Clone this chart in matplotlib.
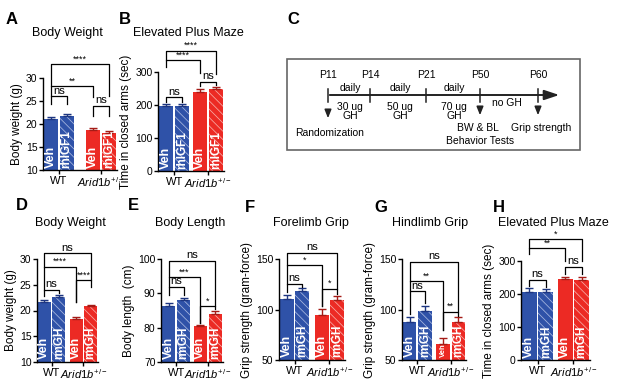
import matplotlib
matplotlib.use("Agg")
import matplotlib.pyplot as plt

plt.rcParams["font.family"] = ["Liberation Sans", "DejaVu Sans"]
plt.rcParams["mathtext.fontset"] = "custom"
plt.rcParams["mathtext.rm"] = "Liberation Sans"
plt.rcParams["mathtext.it"] = "Liberation Sans:italic"
plt.rcParams["hatch.linewidth"] = 0.55

# ---- data ----
groups = ["WT", r"$\mathit{Arid1b}^{+/-}$"]
igf_labels = ["Veh", "rhIGF1", "Veh", "rhIGF1"]
gh_labels = ["Veh", "rmGH", "Veh", "rmGH"]

# brackets: (bar i, bar j, top, left leg end, right leg end, text)
a_mean = [21.0, 21.8, 18.8, 18.0]
a_err = [0.5, 0.4, 0.3, 0.4]
a_sig = [(0, 1, 26.0, 24.3, 24.3, "ns"), (2, 3, 24.0, 21.8, 21.8, "ns"),
         (0, 2, 28.2, 26.0, 25.8, "**"), (0, 3, 33.0, 28.2, 26.0, "****")]

b_mean = [197, 198, 240, 248]
b_err = [7, 6, 7, 8]
b_sig = [(0, 1, 223, 210, 210, "ns"), (2, 3, 270, 257, 262, "ns"),
         (0, 2, 335, 315, 297, "****"), (0, 3, 365, 335, 295, "****")]

d_mean = [21.7, 22.7, 18.4, 20.8]
d_err = [0.4, 0.3, 0.3, 0.3]
d_sig = [(0, 1, 24.0, 22.8, 23.4, "ns"), (2, 3, 25.9, 21.7, 24.6, "****"),
         (0, 2, 28.5, 24.0, 21.7, "****"), (0, 3, 31.1, 28.5, 25.9, "ns")]

e_mean = [86.3, 88.1, 80.4, 84.0]
e_err = [0.9, 0.6, 0.4, 0.8]
e_sig = [(0, 1, 91.8, 89.6, 89.6, "ns"), (2, 3, 86.2, 81.5, 85.3, "*"),
         (0, 2, 94.7, 91.8, 81.5, "***"), (0, 3, 99.5, 94.7, 86.2, "ns")]

f_mean = [110, 118, 95, 109]
f_err = [4.5, 2.8, 5.5, 4.5]
f_sig = [(0, 1, 125.5, 117, 122.5, "ns"), (2, 3, 120.4, 103.5, 115, "*"),
         (0, 2, 144, 125.5, 103.5, "*"), (0, 3, 156, 144, 120.4, "ns")]

g_mean = [88, 99, 66, 88]
g_err = [5, 4, 6, 5]
g_sig = [(0, 1, 118, 96, 106, "ns"), (2, 3, 97.5, 80, 94, "**"),
         (0, 2, 128, 118, 80, "**"), (0, 3, 147, 128, 97.5, "ns")]

h_mean = [207, 205, 245, 242]
h_err = [10, 10, 8, 10]
h_sig = [(0, 1, 242, 225, 222, "ns"), (2, 3, 282, 262, 262, "ns"),
         (0, 2, 339, 322, 300, "**"), (0, 3, 366, 339, 300, "*")]

# timeline (panel C)
stages = ["P11", "P14", "P21", "P50", "P60"]
doses = ["daily\n\n30 ug\nGH", "daily\n\n50 ug\nGH", "daily\n\n70 ug\nGH"]

W, H = 617, 382
BLUE, RED = "#2f52a8", "#ec2a24"
BLUE_H, RED_H = "#a9b8e0", "#f8aaa6"
BLUE_D, RED_D = "#1d3580", "#a51b16"

fig = plt.figure(figsize=(W / 100, H / 100), dpi=100)


def px_axes(left, right, top, bottom):
    return fig.add_axes([left / W, 1 - bottom / H, (right - left) / W, (bottom - top) / H])


def bar_panel(rect, means, errs, labels, sig, ylim, yticks, ylabel, gap,
              label_sizes=(9, 8.5, 9, 8.5)):
    ax = px_axes(*rect)
    x = [0, 1, 1 + gap, 2 + gap]
    faces = [BLUE, BLUE, RED, RED]
    hatches = [BLUE_H, BLUE_H, RED_H, RED_H]
    darks = [BLUE_D, BLUE_D, RED_D, RED_D]
    for i in range(4):
        hatched = i % 2 == 1
        ax.bar(x[i], means[i] - ylim[0], bottom=ylim[0], width=0.9,
               color=faces[i], edgecolor=hatches[i] if hatched else faces[i],
               hatch="\\\\\\\\" if hatched else None, linewidth=0, zorder=2)
        ax.errorbar(x[i], means[i], yerr=[[0], [errs[i]]], fmt="none",
                    ecolor=darks[i], elinewidth=1.0, capsize=3.2, capthick=1.0, zorder=3)
        ax.text(x[i], 0.025, labels[i], transform=ax.get_xaxis_transform(),
                rotation=90, ha="center", va="bottom", color="white",
                fontweight="bold", fontsize=label_sizes[i], zorder=4)
    span = ylim[1] - ylim[0]
    for i, j, top, lb, rb, txt in sig:
        ax.plot([x[i], x[i], x[j], x[j]], [lb, top, top, rb], color="black",
                lw=0.9, clip_on=False, zorder=5)
        ax.text((x[i] + x[j]) / 2, top + span * 0.008, txt, ha="center",
                va="bottom", fontsize=8 if txt == "ns" else 6.5, clip_on=False)
    ax.set_xlim(-0.5, 2.5 + gap)
    ax.set_ylim(*ylim)
    ax.set_yticks(yticks)
    ax.set_xticks([0.5, 1.5 + gap])
    ax.set_xticklabels(groups, fontsize=8)
    ax.tick_params(axis="y", labelsize=7.5, length=3, width=1, pad=1)
    ax.tick_params(axis="x", length=3, width=1, pad=1)
    ax.set_ylabel(ylabel, fontsize=8.5, labelpad=2)
    for s in ["top", "right"]:
        ax.spines[s].set_visible(False)
    for s in ["left", "bottom"]:
        ax.spines[s].set_linewidth(1)
    ax.patch.set_alpha(0)
    return ax


bar_panel((43, 117, 78, 170), a_mean, a_err, igf_labels, a_sig, (10, 30),
          [10, 15, 20, 25, 30], "Body weight (g)", 1.7)
bar_panel((158, 224, 72, 171), b_mean, b_err, igf_labels, b_sig, (0, 300),
          [0, 100, 200, 300], "Time in closed arms (sec)", 1.1)
bar_panel((37, 98, 259, 362), d_mean, d_err, gh_labels, d_sig, (10, 30),
          [10, 15, 20, 25, 30], "Body weight (g)", 1.2)
bar_panel((161, 223, 259, 362), e_mean, e_err, gh_labels, e_sig, (70, 100),
          [70, 80, 90, 100], "Body length  (cm)", 1.1)
bar_panel((279, 345, 259, 360), f_mean, f_err, gh_labels, f_sig, (50, 150),
          [50, 100, 150], "Grip strength (gram-force)", 1.25)
bar_panel((402, 466, 259, 360), g_mean, g_err, gh_labels, g_sig, (50, 150),
          [50, 100, 150], "Grip strength (gram-force)", 1.2,
          label_sizes=(9, 8.5, 5.5, 8.5))
bar_panel((521, 590, 261, 360), h_mean, h_err, gh_labels, h_sig, (0, 300),
          [0, 100, 200, 300], "Time in closed arms (sec)", 1.15)

# overlay in pixel coordinates for letters, titles and the schematic
ov = fig.add_axes([0, 0, 1, 1])
ov.set_xlim(0, W)
ov.set_ylim(H, 0)
ov.axis("off")
ov.patch.set_alpha(0)

letters = [("A", 12, 19), ("B", 125, 19), ("C", 293, 19), ("D", 22, 206),
           ("E", 133, 206), ("F", 250, 208), ("G", 381, 208), ("H", 499, 208)]
for t, lx, ly in letters:
    ov.text(lx, ly, t, fontsize=12, fontweight="bold", ha="center", va="center")

titles = [("Body Weight", 67, 33), ("Elevated Plus Maze", 188, 33),
          ("Body Weight", 70, 223), ("Body Length", 190, 223),
          ("Forelimb Grip", 311, 223), ("Hindlimb Grip", 430, 223),
          ("Elevated Plus Maze", 553, 223)]
for t, tx, ty in titles:
    ov.text(tx, ty, t, fontsize=9, ha="center", va="center")

# panel C schematic
ov.add_patch(plt.Rectangle((287, 59), 293, 91, fill=False, edgecolor="#666666", lw=1.2))
stage_x = [328, 370, 426, 480, 538]
ov.annotate("", xy=(562, 95), xytext=(327, 95),
            arrowprops=dict(arrowstyle="-|>,head_length=0.9,head_width=0.3",
                            color="#222222", lw=1.4))
for s, sx in zip(stages, stage_x):
    ov.plot([sx, sx], [89, 102], color="#222222", lw=1.1)
    ov.text(sx, 75, s, fontsize=7.5, ha="center", va="center")
mid_x = [350, 400, 454]
for d, mx in zip(doses, mid_x):
    ov.text(mx, 102, d, fontsize=7.5, ha="center", va="center", linespacing=0.95)
ov.text(507, 103, "no GH", fontsize=7.5, ha="center", va="center")
for sx in [328, 480, 538]:
    y0 = 107 if sx == 328 else 104
    ov.annotate("", xy=(sx, y0 + 14), xytext=(sx, y0),
                arrowprops=dict(arrowstyle="-|>,head_length=0.5,head_width=0.2",
                                color="#222222", lw=1.1))
ov.text(330, 133, "Randomization", fontsize=7.5, ha="center", va="center")
ov.text(478, 128, "BW & BL", fontsize=7.5, ha="center", va="center")
ov.text(541, 128, "Grip strength", fontsize=7.5, ha="center", va="center")
ov.text(480, 141, "Behavior Tests", fontsize=7.5, ha="center", va="center")

fig.savefig("out.png", dpi=100)
